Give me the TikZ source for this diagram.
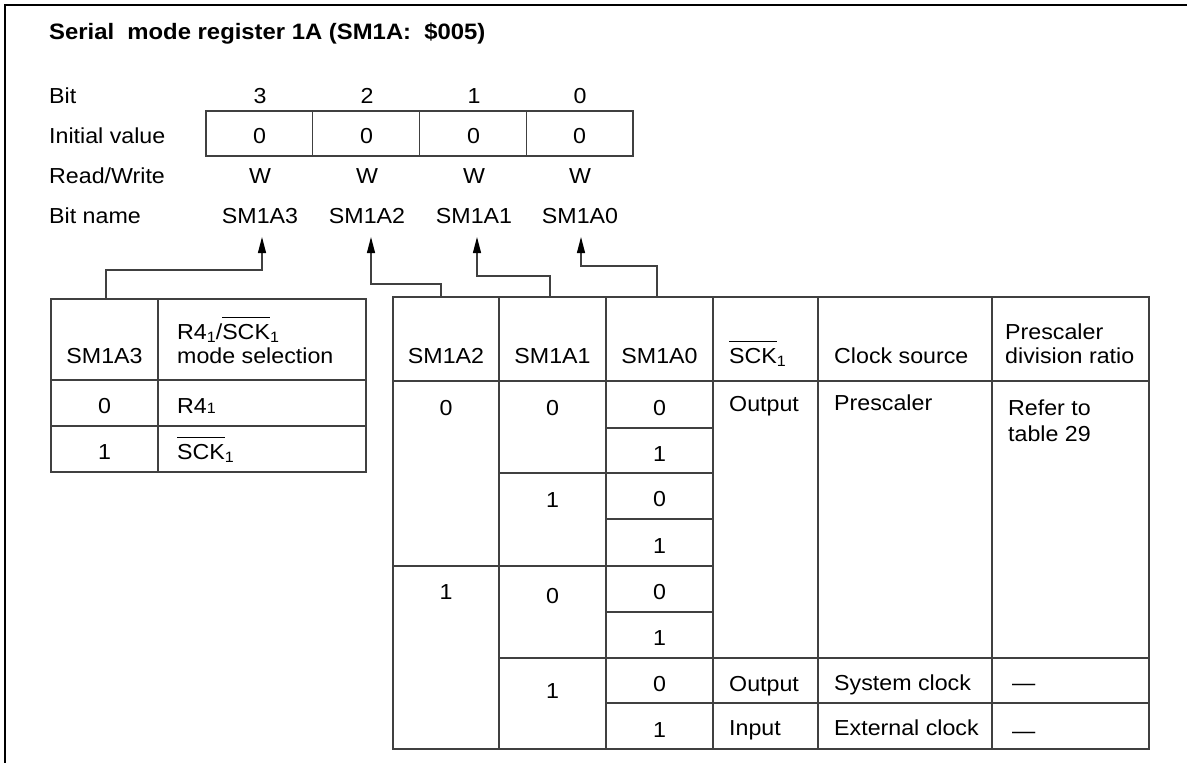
\documentclass[tikz,border=0pt]{standalone}
\usepackage{fontspec}
\setmainfont{Liberation Sans}[FakeStretch=1.07]
\usetikzlibrary{arrows.meta}
\newcommand\ovl[1]{\vbox{\hrule height 0.9pt\kern5.5pt\hbox{#1}}}
\newcommand\subone{\raisebox{-3pt}{\fontsize{15}{15}\selectfont 1}}
\newcommand\smallone{{\fontsize{15}{15}\selectfont 1}}
\tikzset{
  txt/.style={inner sep=0pt, anchor=base, font=\fontsize{21.7}{24}\selectfont},
  ltxt/.style={txt, anchor=base west},
  ttl/.style={ltxt, font=\fontsize{22.3}{24}\selectfont\bfseries},
  grid/.style={draw=black!75, line width=1.2pt},
  conn/.style={draw=black!75, line width=1.2pt, -{Triangle[length=16pt,width=8pt,color=black]}},
  frameline/.style={draw=black, line width=2pt}
}
\begin{document}
\begin{tikzpicture}[x=1pt,y=-1pt]
\useasboundingbox (0,0) rectangle (1187,763);
% frame
\draw[frameline] (1187,5) -- (5,5) -- (5,763);
% title
\node[ttl] (title) at (49,39) {Serial\ \ mode register 1A (SM1A:\ \ \$005)};
% row labels
\node[ltxt] (lbit) at (49,103) {Bit};
\node[ltxt] (linit) at (49,143) {Initial value};
\node[ltxt] (lrw) at (49,183) {Read/Write};
\node[ltxt] (lname) at (49,223) {Bit name};
% register box
\draw[grid] (206,111) rectangle (633,156);
\draw[grid] (312.75,111) -- (312.75,156);
\draw[grid] (419.5,111) -- (419.5,156);
\draw[grid] (526.25,111) -- (526.25,156);
% bit columns
\foreach \b/\x/\nm in {3/260/SM1A3, 2/367/SM1A2, 1/474/SM1A1, 0/580/SM1A0}{
  \node[txt] (bit\b) at (\x,103) {\b};
  \node[txt] (init\b) at (\x-0.5,143) {0};
  \node[txt] (rw\b) at (\x,183) {W};
  \node[txt] (name\b) at (\x,223) {\nm};
}
% left table
\draw[grid] (51,299) rectangle (366,472);
\draw[grid] (158,299) -- (158,472);
\draw[grid] (51,380) -- (366,380);
\draw[grid] (51,426) -- (366,426);
\node[txt] (lh1) at (104.5,363) {SM1A3};
\node[ltxt] (lh2a) at (177,339) {R4\subone/\ovl{SCK}\subone};
\node[ltxt] (lh2b) at (177,363) {mode selection};
\node[txt] (lr1a) at (104.5,413) {0};
\node[ltxt] (lr1b) at (177,413) {R4\smallone};
\node[txt] (lr2a) at (104.5,459) {1};
\node[ltxt] (lr2b) at (177,459) {\ovl{SCK}\subone};
% right table
\draw[grid] (393,297) rectangle (1149,749);
\foreach \x in {499,606,713,818,992}{\draw[grid] (\x,297) -- (\x,749);}
\draw[grid] (393,381) -- (1149,381);
\draw[grid] (606,428) -- (713,428);
\draw[grid] (499,473) -- (713,473);
\draw[grid] (606,519) -- (713,519);
\draw[grid] (393,566) -- (713,566);
\draw[grid] (606,612) -- (713,612);
\draw[grid] (499,658) -- (1149,658);
\draw[grid] (606,703) -- (1149,703);
% right header
\node[txt] (rh1) at (446,363) {SM1A2};
\node[txt] (rh2) at (552.5,363) {SM1A1};
\node[txt] (rh3) at (659.5,363) {SM1A0};
\node[ltxt] (rh4) at (729,363) {\ovl{SCK}\subone};
\node[ltxt] (rh5) at (834,363) {Clock source};
\node[ltxt] (rh6a) at (1005,339) {Prescaler};
\node[ltxt] (rh6b) at (1005,363) {division ratio};
% right body
\node[txt] (a2r0) at (446,415) {0};
\node[txt] (a2r1) at (446,599) {1};
\node[txt] (a1r0) at (552.5,415) {0};
\node[txt] (a1r1) at (552.5,507) {1};
\node[txt] (a1r2) at (552.5,603) {0};
\node[txt] (a1r3) at (552.5,698) {1};
\node[txt] (a0r0) at (659.5,415) {0};
\node[txt] (a0r1) at (659.5,461) {1};
\node[txt] (a0r2) at (659.5,506) {0};
\node[txt] (a0r3) at (659.5,553) {1};
\node[txt] (a0r4) at (659.5,599) {0};
\node[txt] (a0r5) at (659.5,645) {1};
\node[txt] (a0r6) at (659.5,691) {0};
\node[txt] (a0r7) at (659.5,737) {1};
\node[ltxt] (sck0) at (729,411) {Output};
\node[ltxt] (sck1) at (729,691) {Output};
\node[ltxt] (sck2) at (729,735) {Input};
\node[ltxt] (cs0) at (834,410) {Prescaler};
\node[ltxt] (cs1) at (834,690) {System clock};
\node[ltxt] (cs2) at (834,735) {External clock};
\node[ltxt] (dr0a) at (1008,415) {Refer to};
\node[ltxt] (dr0b) at (1008,441) {table 29};
\node[ltxt] (dr1) at (1012,690) {—};
\node[ltxt] (dr2) at (1012,738) {—};
% connectors
\coordinate (s3) at (106,299);  \coordinate (t3) at (262,237);
\coordinate (s2) at (441,297);  \coordinate (t2) at (371,237);
\coordinate (s1) at (550,297);  \coordinate (t1) at (477,237);
\coordinate (s0) at (657,297);  \coordinate (t0) at (581,237);
\draw[conn] (s3) -- ++(0,-29) -| (t3);
\draw[conn] (s2) -- ++(0,-13) -| (t2);
\draw[conn] (s1) -- ++(0,-21) -| (t1);
\draw[conn] (s0) -- ++(0,-31) -| (t0);
\end{tikzpicture}
\end{document}
